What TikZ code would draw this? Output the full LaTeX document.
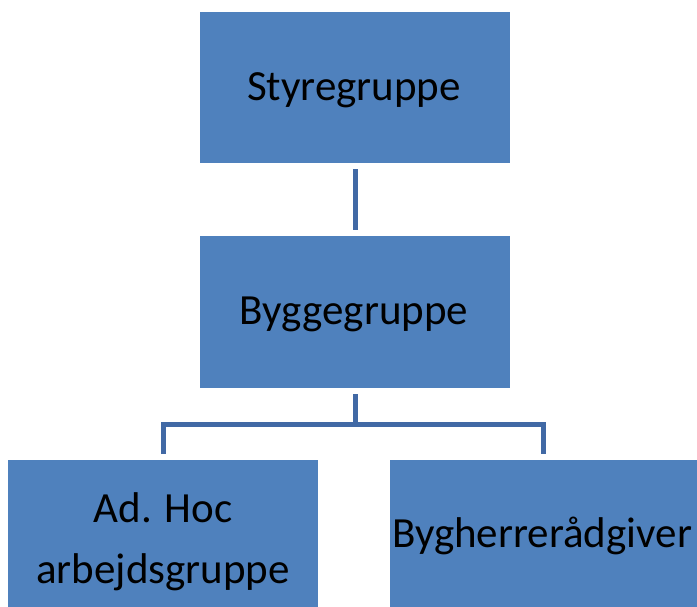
\documentclass[tikz,border=0pt]{standalone}
\usepackage{fontspec}
\setmainfont{Carlito}
\definecolor{boxblue}{HTML}{4F81BD}
\definecolor{linkblue}{RGB}{65,105,165}
\begin{document}
\begin{tikzpicture}[x=1pt,y=-1pt,
  orgbox/.style={fill=boxblue,inner sep=0pt,outer sep=0pt},
  boxtext/.style={font=\fontsize{43}{61}\selectfont,align=center,anchor=base,inner sep=0pt},
  conn/.style={draw=linkblue,line width=5pt}]
\useasboundingbox (0,0) rectangle (697,606);
\node[orgbox,minimum width=310pt,minimum height=151pt] (sty) at (355,87.5) {};
\node[boxtext] (styt) at (354,100) {Styregruppe};
\node[orgbox,minimum width=310pt,minimum height=152pt] (byg) at (355,312) {};
\node[boxtext] (bygt) at (354,324) {Byggegruppe};
\node[orgbox,minimum width=310pt,minimum height=151pt] (adh) at (163,535.5) {};
\node[boxtext] (adht) at (163,583) {Ad. Hoc\\arbejdsgruppe};
\node[orgbox,minimum width=307pt,minimum height=151pt] (bhr) at (543.5,535.5) {};
\node[boxtext] (bhrt) at (542,547) {Bygherrerådgiver};
\draw[conn,shorten <=6pt,shorten >=6pt] (sty.south) -- (byg.north);
\draw[conn] ([yshift=-6pt]byg.south) -- ++(0,30) coordinate (j);
\draw[conn] ([yshift=6pt]adh.north) |- (j) -| ([yshift=6pt]bhr.north);
\end{tikzpicture}
\end{document}
